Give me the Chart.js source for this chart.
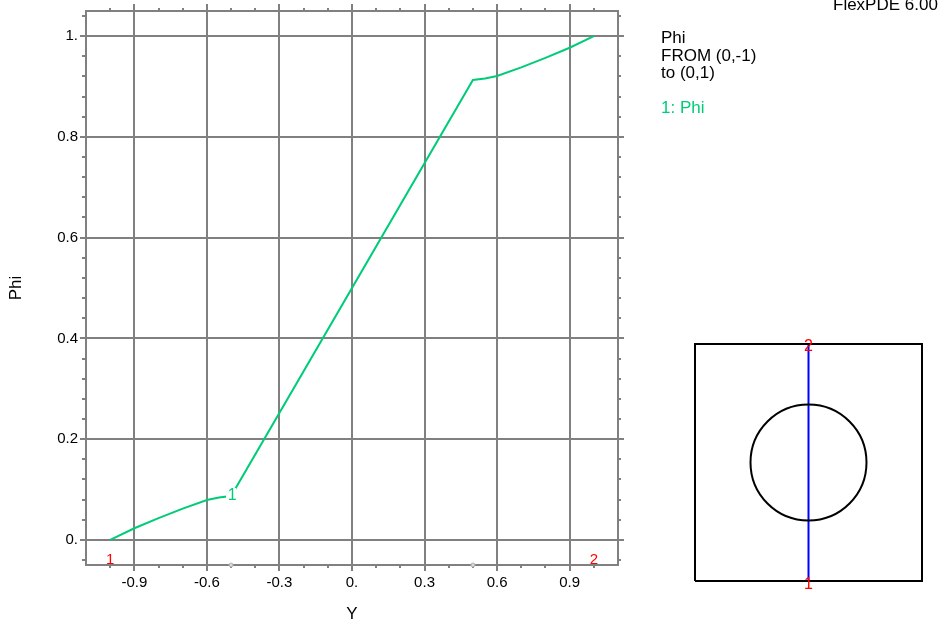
<!DOCTYPE html>
<html>
<head>
<meta charset="utf-8">
<script src="https://cdn.jsdelivr.net/npm/chart.js@4"></script>
<style>
  body { margin: 0; background: #fff; }
  #wrap { position: relative; width: 946px; height: 625px; }
  #main { position: absolute; left: 0; top: 0; }
  #domain { position: absolute; left: 680px; top: 330px; }
</style>
</head>
<body>
<div id="wrap">
  <canvas id="main" width="946" height="625"></canvas>
  <canvas id="domain" width="260" height="270"></canvas>
</div>
<script>
// cut position along the line (0,-1) -> (0,1)
var yPos = [-1, -0.9, -0.8, -0.7, -0.6, -0.55, -0.5, 0.5, 0.55, 0.6, 0.7, 0.8, 0.9, 1]
var phi  = [0, 0.023, 0.043, 0.062, 0.079, 0.084, 0.087, 0.913, 0.916, 0.921, 0.938, 0.957, 0.977, 1]

// little marks on the axis where the cut crosses the circle
var crossY = [-0.5, 0.5]

var xTicks = [-0.9, -0.6, -0.3, 0, 0.3, 0.6, 0.9]
var xTickLabels = ['-0.9', '-0.6', '-0.3', '0.', '0.3', '0.6', '0.9']
var yTicks = [0, 0.2, 0.4, 0.6, 0.8, 1]
var yTickLabels = ['0.', '0.2', '0.4', '0.6', '0.8', '1.']

// domain sketch
var boxX = [-1, 1, 1, -1, -1]
var boxY = [-1, -1, 1, 1, -1]
var cutX = [0, 0]
var cutY = [-1, 1]
var circleX = [0]
var circleY = [0]

var GRAY = '#808080'
var GREEN = '#00cc78'
var FONT = '"Liberation Sans", Arial, sans-serif'

function pts(xs, ys) {
  return xs.map(function (x, i) { return { x: x, y: ys[i] } })
}

function fixed(list) {
  return function (s) { s.ticks = list.map(function (v) { return { value: v } }) }
}
function minorX(s) {
  var t = []
  for (var i = -10; i <= 10; i++) t.push({ value: i / 10 })
  s.ticks = t
}
function minorY(s) {
  var t = []
  for (var i = -1; i <= 26; i++) t.push({ value: Math.round(i * 4) / 100 })
  s.ticks = t
}

function axis(pos, weight, ticksFn, tickLen, size, extra) {
  var o = {
    type: 'linear',
    position: pos,
    weight: weight,
    afterBuildTicks: ticksFn,
    grid: { color: GRAY, lineWidth: 2, tickLength: tickLen, drawOnChartArea: false, tickColor: GRAY, tickWidth: 2 },
    border: { display: false },
    ticks: { display: false, autoSkip: false },
    afterFit: function (s) {
      if (pos == 'left' || pos == 'right') s.width = size
      else s.height = size
    }
  }
  if (pos == 'left' || pos == 'right') { o.min = -0.05; o.max = 1.05 }
  else { o.min = -1.1; o.max = 1.1 }
  if (extra) extra(o)
  return o
}

var scales = {
  x: axis('bottom', 1, fixed(xTicks), 6, 60, function (o) {
    o.grid.drawOnChartArea = true
    o.border = { display: true, color: GRAY, width: 2 }
    o.ticks = {
      display: true, autoSkip: false, maxRotation: 0, padding: 3, color: '#000',
      font: { family: FONT, size: 15 },
      callback: function (v, i) { return xTickLabels[i] }
    }
    o.title = { display: true, text: 'Y', color: '#000', font: { family: FONT, size: 17 }, padding: { top: 0, bottom: 0 } }
  }),
  xm: axis('bottom', 0, minorX, 3, 0),
  xt: axis('top', 1, fixed(xTicks), 7, 9, function (o) {
    o.border = { display: true, color: GRAY, width: 2 }
  }),
  xtm: axis('top', 0, minorX, 3, 0),
  y: axis('left', 1, fixed(yTicks), 6, 86, function (o) {
    o.grid.drawOnChartArea = true
    o.border = { display: true, color: GRAY, width: 2 }
    o.ticks = {
      display: true, autoSkip: false, padding: 2, color: '#000',
      font: { family: FONT, size: 15 },
      callback: function (v, i) { return yTickLabels[i] }
    }
    o.title = { display: true, text: 'Phi', color: '#000', font: { family: FONT, size: 17 }, padding: { top: 6, bottom: 0 } }
  }),
  ym: axis('left', 0, minorY, 4, 0),
  yr: axis('right', 1, fixed(yTicks), 6, 328, function (o) {
    o.border = { display: true, color: GRAY, width: 2 }
  }),
  yrm: axis('right', 0, minorY, 3, 0)
}

var labelsPlugin = {
  id: 'labels',
  afterDatasetsDraw: function (chart) {
    var ctx = chart.ctx
    var sx = chart.scales.x, sy = chart.scales.y
    ctx.save()
    // curve label "1" at the kink
    var lx = sx.getPixelForValue(-0.5), ly = sy.getPixelForValue(0.087)
    ctx.font = '16px ' + FONT
    ctx.textAlign = 'center'
    ctx.textBaseline = 'middle'
    ctx.fillStyle = '#fff'
    ctx.fillRect(lx - 5, ly - 8, 10, 16)
    ctx.fillStyle = GREEN
    ctx.fillText('1', lx + 1, ly)
    // end points of the cut
    ctx.fillStyle = '#ff0000'
    ctx.font = '15px ' + FONT
    ctx.fillText('1', sx.getPixelForValue(-1), sy.getPixelForValue(-0.04))
    ctx.fillText('2', sx.getPixelForValue(1), sy.getPixelForValue(-0.04))
    // header text on the right
    ctx.textAlign = 'left'
    ctx.textBaseline = 'alphabetic'
    ctx.fillStyle = '#000'
    ctx.font = '17px ' + FONT
    ctx.fillText('FlexPDE 6.00', 833, 10)
    ctx.fillText('Phi', 661, 43)
    ctx.fillText('FROM (0,-1)', 661, 61)
    ctx.fillText('to (0,1)', 661, 78)
    ctx.fillStyle = GREEN
    ctx.fillText('1: Phi', 661, 113)
    ctx.restore()
  }
}

new Chart(document.getElementById('main'), {
  type: 'scatter',
  data: {
    datasets: [
      {
        label: 'Phi',
        data: pts(yPos, phi),
        showLine: true,
        borderColor: GREEN,
        borderWidth: 2,
        pointRadius: 0,
        tension: 0,
        fill: false
      },
      {
        label: 'cross',
        data: pts(crossY, crossY.map(function () { return -0.05 })),
        pointRadius: 2,
        pointBorderColor: '#b0b0b0',
        pointBackgroundColor: '#d8d8d8',
        clip: false
      }
    ]
  },
  options: {
    responsive: false,
    animation: false,
    layout: { padding: 0, autoPadding: false },
    plugins: { legend: { display: false }, tooltip: { enabled: false } },
    scales: scales
  },
  plugins: [labelsPlugin]
})

var domainLabels = {
  id: 'domainLabels',
  afterDatasetsDraw: function (chart) {
    var ctx = chart.ctx
    var sx = chart.scales.x, sy = chart.scales.y
    ctx.save()
    ctx.fillStyle = '#ff0000'
    ctx.font = '16px ' + FONT
    ctx.textAlign = 'center'
    ctx.textBaseline = 'middle'
    ctx.fillText('2', sx.getPixelForValue(0), sy.getPixelForValue(1) + 3)
    ctx.fillText('1', sx.getPixelForValue(0), sy.getPixelForValue(-1) + 4)
    ctx.restore()
  }
}

new Chart(document.getElementById('domain'), {
  type: 'scatter',
  data: {
    datasets: [
      { data: pts(boxX, boxY), showLine: true, borderColor: '#000', borderWidth: 2, pointRadius: 0, clip: false },
      { data: pts(circleX, circleY), pointRadius: 58, pointBorderWidth: 2, pointBorderColor: '#000', pointBackgroundColor: 'rgba(0,0,0,0)', clip: false },
      { data: pts(cutX, cutY), showLine: true, borderColor: '#0000ff', borderWidth: 2, pointRadius: 0, clip: false }
    ]
  },
  options: {
    responsive: false,
    animation: false,
    layout: { padding: { left: 15, top: 14, right: 18, bottom: 19 }, autoPadding: false },
    plugins: { legend: { display: false }, tooltip: { enabled: false } },
    scales: {
      x: { type: 'linear', min: -1, max: 1, display: false },
      y: { type: 'linear', min: -1, max: 1, display: false }
    }
  },
  plugins: [domainLabels]
})
</script>
</body>
</html>
